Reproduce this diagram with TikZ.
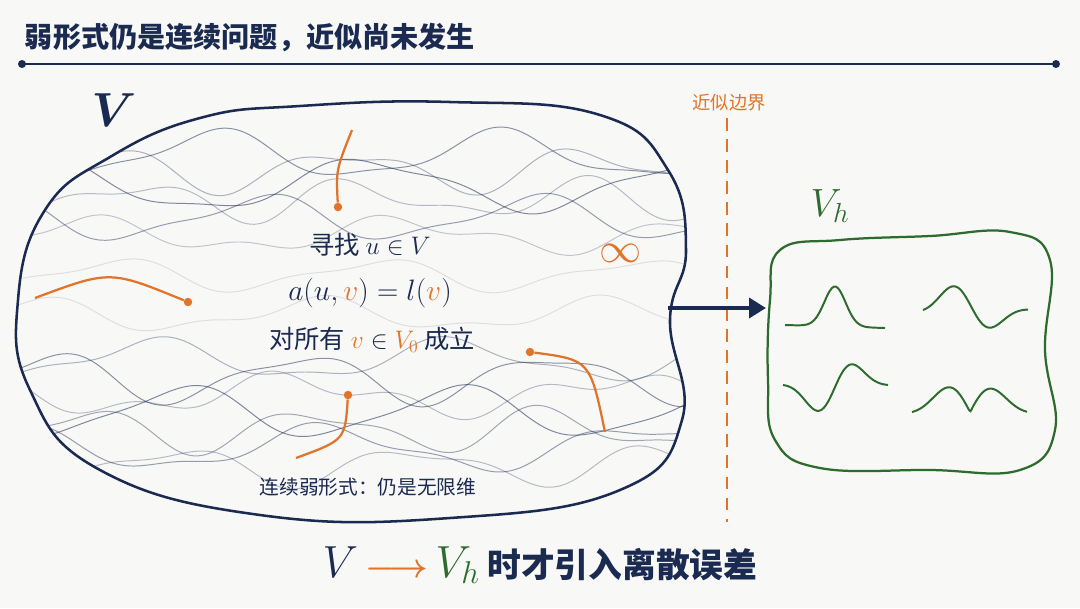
\documentclass[tikz,border=0pt]{standalone}
\usepackage{fix-cm}
\usepackage{amsmath}
\usepackage{fontspec}
\setmainfont{Noto Sans CJK SC}
\usetikzlibrary{arrows.meta}
\definecolor{navy}{HTML}{1B2A50}
\definecolor{org}{HTML}{E0742A}
\definecolor{grn}{HTML}{2E6B2E}
\definecolor{bg}{HTML}{F8F8F6}
\begin{document}
\begin{tikzpicture}[x=0.025cm,y=-0.025cm,
  oc/.style={org,line width=1.6pt},
  dot/.style={circle,fill=org,inner sep=0pt,minimum size=6pt},
  gc/.style={grn,line width=1.4pt},
  ct/.style={navy,font=\fontsize{18}{22}\selectfont}]
\fill[bg] (0,0) rectangle (1080,608);
\useasboundingbox (0,0) rectangle (1080,608);
\node[anchor=west,navy,font=\fontsize{20}{24}\selectfont\bfseries] (title) at (20,38) {弱形式仍是连续问题，近似尚未发生};
\coordinate (l1) at (22,64); \coordinate (l2) at (1056,64);
\draw[navy,line width=1.6pt] (l1) -- (l2);
\fill[navy] (l1) circle (4) (l2) circle (4);
% big blob
\def\blob{plot[smooth cycle,tension=0.75] coordinates{(18,300) (45,210) (110,157) (200,118) (300,106) (450,102) (600,115) (668,170) (686,250) (670,320) (682,420) (620,490) (450,518) (260,515) (100,470) (30,390)}}
\begin{scope}
\clip \blob;
\foreach \y/\a/\b/\f/\p/\o in {155/22/6/0.022/0/0.5,170/18/8/0.026/2/0.35,185/24/5/0.019/4/0.55,200/16/9/0.028/1/0.3,218/20/6/0.023/5/0.45,235/14/7/0.02/3/0.25,
 360/18/6/0.021/1.5/0.35,378/22/7/0.025/3.5/0.5,395/16/9/0.019/5.5/0.3,412/24/5/0.023/0.5/0.55,430/18/8/0.027/2.5/0.4,448/20/6/0.02/4.5/0.45,466/16/7/0.026/6.5/0.3,
 275/14/5/0.024/2/0.12,315/14/6/0.022/4/0.12}
  \draw[navy,opacity=\o,line width=0.7pt] plot[domain=0:700,samples=100,smooth] (\x,{\y+\a*sin((\f*\x+\p) r)+\b*sin((0.047*\x+2*\p) r)});
\end{scope}
\draw[navy,line width=1.8pt] \blob;
\node[navy,font=\fontsize{34}{34}\selectfont] (V) at (114,110) {$\boldsymbol{V}$};
% orange curves
\node[dot] (d1) at (338,207) {};
\draw[oc] (d1) .. controls (336,170) .. (352,130);
\node[dot] (d2) at (188,302) {};
\draw[oc] (d2) .. controls (110,270) .. (35,298);
\node[dot] (d3) at (530,352) {};
\draw[oc] (d3) .. controls (590,360) .. (605,432);
\node[dot] (d4) at (348,395) {};
\draw[oc] (d4) .. controls (345,440) .. (296,458);
\node[org,font=\fontsize{30}{30}\selectfont] (inf) at (621,253) {$\infty$};
\node[ct] (t1) at (370,245) {寻找 $u\in V$};
\node[ct,font=\fontsize{21}{24}\selectfont] (t2) at (370,293) {$a(u,\textcolor{org}{v})=l(\textcolor{org}{v})$};
\node[ct] (t3) at (372,340) {对所有 $\textcolor{org}{v}\in\textcolor{org}{V_0}$ 成立};
\node[navy,font=\fontsize{14}{16}\selectfont] (t4) at (368,487) {连续弱形式：仍是无限维};
% boundary
\coordinate (b1) at (727,118); \coordinate (b2) at (727,522);
\draw[org,line width=1.4pt,dash pattern=on 9pt off 6pt] (b1) -- (b2);
\node[org,font=\fontsize{13}{15}\selectfont] (bl) at (729,103) {近似边界};
\coordinate (a1) at (668,308); \coordinate (a2) at (766,308);
\draw[navy,line width=3pt,-{Triangle[length=12pt,width=14pt]}] (a1) -- (a2);
% Vh blob
\draw[grn,line width=1.6pt] plot[smooth cycle,tension=0.7] coordinates{(770,300) (780,250) (840,240) (930,236) (1010,232) (1050,260) (1045,350) (1055,430) (1020,470) (930,470) (820,468) (775,440) (768,380)};
\node[grn,font=\fontsize{28}{28}\selectfont] (Vh) at (830,206) {$V_h$};
\draw[gc] plot[domain=0:100,samples=50,smooth] ({785+\x},{325-40*exp(-((\x-50)/15)^2)+3*\x/100});
\draw[gc] plot[domain=0:105,samples=50,smooth] ({923+\x},{310-30*sin(\x*3.6)*exp(-((\x-45)/35)^2)});
\draw[gc] plot[domain=0:105,samples=50,smooth] ({783+\x},{385+38*sin(\x*3.4)*exp(-((\x-50)/30)^2)});
\draw[gc] plot[domain=0:115,samples=60,smooth] ({912+\x},{412-35*abs(sin(\x*3.1))*exp(-((\x-57)/40)^2)});
% bottom
\node[font=\fontsize{24}{28}\selectfont] (bot) at (540,565) {\textcolor{navy}{\fontsize{32}{32}\selectfont$V$} \textcolor{org}{$\boldsymbol\longrightarrow$} \textcolor{grn}{\fontsize{32}{32}\selectfont$V_h$} \textcolor{navy}{\bfseries 时才引入离散误差}};
\end{tikzpicture}
\end{document}
